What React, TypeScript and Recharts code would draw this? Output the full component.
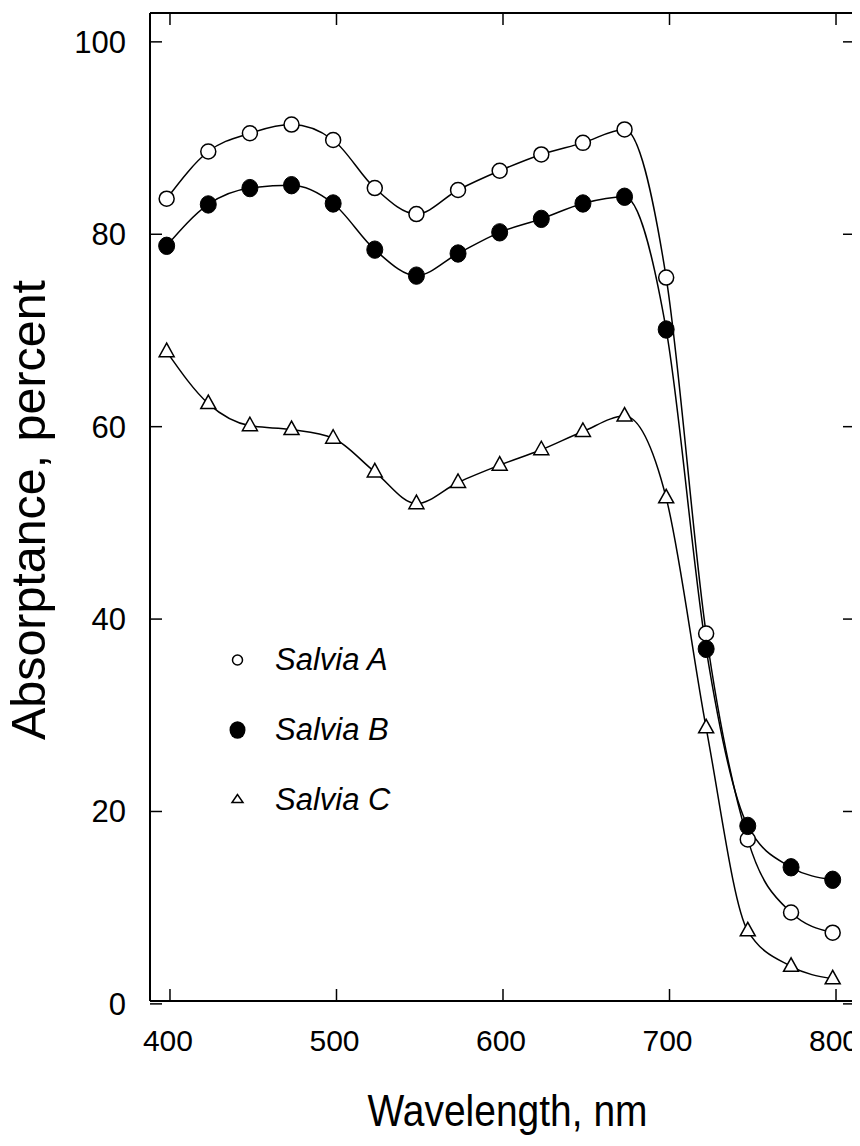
import { LineChart, Line, XAxis, YAxis, Label } from 'recharts';

const wavelengths = [398, 423, 448, 473, 498, 523, 548, 573, 598, 623, 648, 673, 698, 722, 747, 773, 798];
const salviaA = [83.7, 88.6, 90.5, 91.4, 89.8, 84.8, 82.1, 84.6, 86.6, 88.3, 89.5, 90.9, 75.5, 38.5, 17.1, 9.5, 7.4];
const salviaB = [78.8, 83.1, 84.8, 85.1, 83.2, 78.4, 75.7, 78.0, 80.2, 81.6, 83.2, 83.9, 70.1, 36.9, 18.5, 14.2, 12.9];
const salviaC = [67.8, 62.4, 60.1, 59.7, 58.8, 55.3, 52.0, 54.2, 56.0, 57.6, 59.5, 61.1, 52.6, 28.7, 7.6, 3.9, 2.6];

const xTicks = [400, 500, 600, 700, 800];
const yTicks = [0, 20, 40, 60, 80, 100];
const seriesNames = ['Salvia A', 'Salvia B', 'Salvia C'];

const X_DOMAIN: [number, number] = [388, 811.4];
const Y_DOMAIN: [number, number] = [0.3, 103];

const FONT = "'Liberation Sans', Arial, Helvetica, sans-serif";
const TICK_LEN = 12;

const data = wavelengths.map((wl, i) => ({
  wl,
  a: salviaA[i],
  b: salviaB[i],
  c: salviaC[i],
}));

// markers
const openCircle = (p: any) => (
  <circle key={`a-${p.index}`} cx={p.cx} cy={p.cy} r={7.5} fill="#fff" stroke="#000" strokeWidth={1.5} />
);
const filledCircle = (p: any) => (
  <ellipse key={`b-${p.index}`} cx={p.cx} cy={p.cy} rx={8} ry={8.7} fill="#000" stroke="#000" strokeWidth={1} />
);
const openTriangle = (p: any) => (
  <polygon
    key={`c-${p.index}`}
    points={`${p.cx},${p.cy - 8.5} ${p.cx - 7.5},${p.cy + 5} ${p.cx + 7.5},${p.cy + 5}`}
    fill="#fff"
    stroke="#000"
    strokeWidth={1.5}
  />
);

// inward tick marks, drawn by the tick renderers
const LeftTick = ({ x, y, payload }: any) => (
  <g>
    <line x1={x} y1={y} x2={x + TICK_LEN} y2={y} stroke="#000" strokeWidth={1.5} />
    <text x={x - 24} y={y} dy={11} textAnchor="end" fontSize={31} fontFamily={FONT} fill="#000">
      {payload.value}
    </text>
  </g>
);
const RightTick = ({ x, y }: any) => (
  <line x1={x} y1={y} x2={x - TICK_LEN} y2={y} stroke="#000" strokeWidth={1.5} />
);
const BottomTick = ({ x, y, payload }: any) => (
  <g>
    <line x1={x} y1={y} x2={x} y2={y - TICK_LEN} stroke="#000" strokeWidth={1.5} />
    <text x={x - 2} y={y + 50} textAnchor="middle" fontSize={30} fontFamily={FONT} fill="#000">
      {payload.value}
    </text>
  </g>
);
const TopTick = ({ x, y }: any) => (
  <line x1={x} y1={y} x2={x} y2={y + TICK_LEN} stroke="#000" strokeWidth={1.5} />
);

const YTitle = ({ viewBox }: any) => {
  const cx = viewBox.x - 45;
  const cy = viewBox.y + viewBox.height / 2 + 3;
  return (
    <text
      x={cx}
      y={cy}
      transform={`rotate(-90, ${cx}, ${cy})`}
      textAnchor="middle"
      fontSize={48}
      fontFamily={FONT}
      fill="#000"
      textLength={460}
      lengthAdjust="spacingAndGlyphs"
    >
      Absorptance, percent
    </text>
  );
};

const XTitle = ({ viewBox }: any) => (
  <text
    x={viewBox.x + viewBox.width / 2 + 5}
    y={viewBox.y + 125}
    textAnchor="middle"
    fontSize={45}
    fontFamily={FONT}
    fill="#000"
    textLength={280}
    lengthAdjust="spacingAndGlyphs"
  >
    Wavelength, nm
  </text>
);

const legendSymbols = [
  <circle cx={15.5} cy={15} r={5} fill="#fff" stroke="#000" strokeWidth={1.5} />,
  <ellipse cx={15.5} cy={15} rx={8} ry={8.7} fill="#000" />,
  <polygon points="15.5,9.5 10,17.5 21,17.5" fill="#fff" stroke="#000" strokeWidth={1.5} />,
];

const axisLine = { stroke: '#000', strokeWidth: 2 };

export default function App() {
  return (
    <div style={{ position: 'relative', width: 852, height: 1130, background: '#fff' }}>
      <style>{'.recharts-surface { overflow: visible; }'}</style>
      <LineChart width={860} height={1130} data={data} margin={{ top: 0, right: 8, bottom: 97, left: 82 }}>
        <XAxis
          xAxisId="bottom"
          dataKey="wl"
          type="number"
          domain={X_DOMAIN}
          ticks={xTicks}
          interval={0}
          allowDataOverflow
          height={40}
          tickSize={0}
          tickMargin={0}
          tickLine={false}
          axisLine={axisLine}
          tick={<BottomTick />}
        >
          <Label content={<XTitle />} />
        </XAxis>
        <XAxis
          xAxisId="top"
          orientation="top"
          dataKey="wl"
          type="number"
          domain={X_DOMAIN}
          ticks={xTicks}
          interval={0}
          allowDataOverflow
          height={5}
          tickSize={0}
          tickMargin={0}
          tickLine={false}
          axisLine={axisLine}
          tick={<TopTick />}
        />
        <YAxis
          yAxisId="left"
          type="number"
          domain={Y_DOMAIN}
          ticks={yTicks}
          interval={0}
          allowDataOverflow
          width={60}
          tickSize={0}
          tickMargin={0}
          tickLine={false}
          axisLine={axisLine}
          tick={<LeftTick />}
        >
          <Label content={<YTitle />} />
        </YAxis>
        <YAxis
          yAxisId="right"
          orientation="right"
          type="number"
          domain={Y_DOMAIN}
          ticks={yTicks}
          interval={0}
          allowDataOverflow
          width={5}
          tickSize={0}
          tickMargin={0}
          tickLine={false}
          axisLine={axisLine}
          tick={<RightTick />}
        />
        <Line
          xAxisId="bottom"
          yAxisId="left"
          type="monotone"
          dataKey="a"
          name={seriesNames[0]}
          stroke="#000"
          strokeWidth={1.5}
          dot={openCircle}
          activeDot={false}
          isAnimationActive={false}
        />
        <Line
          xAxisId="bottom"
          yAxisId="left"
          type="monotone"
          dataKey="b"
          name={seriesNames[1]}
          stroke="#000"
          strokeWidth={1.5}
          dot={filledCircle}
          activeDot={false}
          isAnimationActive={false}
        />
        <Line
          xAxisId="bottom"
          yAxisId="left"
          type="monotone"
          dataKey="c"
          name={seriesNames[2]}
          stroke="#000"
          strokeWidth={1.5}
          dot={openTriangle}
          activeDot={false}
          isAnimationActive={false}
        />
      </LineChart>

      {/* legend sits inside the plot, lower left */}
      <div style={{ position: 'absolute', left: 214, top: 617, fontFamily: FONT }}>
        {seriesNames.map((name, i) => (
          <div key={name} style={{ display: 'flex', alignItems: 'center', height: 70 }}>
            <svg width={31} height={30} style={{ display: 'block' }}>
              {legendSymbols[i]}
            </svg>
            <span style={{ marginLeft: 22, fontSize: 31, fontStyle: 'italic', color: '#000' }}>{name}</span>
          </div>
        ))}
      </div>
    </div>
  );
}
